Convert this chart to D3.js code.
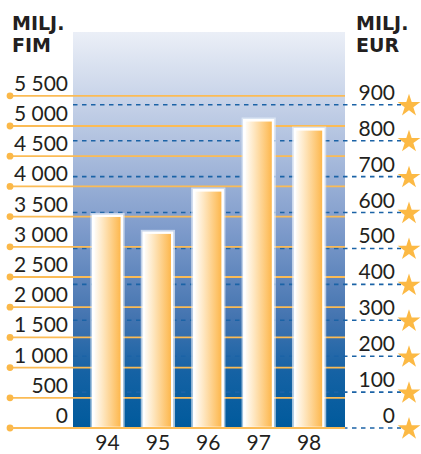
<!DOCTYPE html>
<html><head><meta charset="utf-8">
<script src="https://cdn.jsdelivr.net/npm/d3@7"></script>
<style>body{margin:0;background:#fff;}svg{display:block;}</style>
</head><body>
<script>
const years = ["94","95","96","97","98"];
const valuesFIM = [3540, 3260, 3960, 5120, 4970];
const fimTicks = [0,500,1000,1500,2000,2500,3000,3500,4000,4500,5000,5500];
const fimTickLabels = ["0","500","1 000","1 500","2 000","2 500","3 000","3 500","4 000","4 500","5 000","5 500"];
const eurTicks = [0,100,200,300,400,500,600,700,800,900];
const FIM_PER_EUR = 5.94573;

const W = 421, H = 454;
const svg = d3.select("body").append("svg").attr("width", W).attr("height", H);
const defs = svg.append("defs");

const bg = defs.append("linearGradient").attr("id","bg").attr("x1",0).attr("y1",0).attr("x2",0).attr("y2",1);
[["0%","#ebeff7"],["28%","#b0c1df"],["50%","#7e9bcb"],["72%","#4474b0"],["86%","#1562a4"],["100%","#005a9c"]]
  .forEach(([o,c]) => bg.append("stop").attr("offset",o).attr("stop-color",c));

const bar = defs.append("linearGradient").attr("id","bar").attr("x1",0).attr("y1",0).attr("x2",1).attr("y2",0);
[["0%","#ffffff"],["35%","#fee6bf"],["100%","#fdb445"]]
  .forEach(([o,c]) => bar.append("stop").attr("offset",o).attr("stop-color",c));

const plotL = 73, plotR = 345, plotT = 32, plotB = 428;
const y = d3.scaleLinear().domain([0, 5500]).range([plotB, 95.8]);
const yE = d3.scaleLinear().domain([0, 5500 / FIM_PER_EUR]).range([plotB, 95.8]);
const x = d3.scaleBand().domain(years).range([82.3, 334.3]).paddingInner(0.37).paddingOuter(0.185);

svg.append("rect").attr("x", plotL).attr("y", plotT).attr("width", plotR - plotL).attr("height", plotB - plotT)
  .attr("fill", "url(#bg)");

// EUR dashed lines
svg.append("g").selectAll("line").data(eurTicks).join("line")
  .attr("x1", plotL).attr("x2", 401)
  .attr("y1", d => yE(d)).attr("y2", d => yE(d))
  .attr("stroke", "#1b63a6").attr("stroke-width", 1.6).attr("stroke-dasharray", "4.5,4.5");

// FIM orange lines
svg.append("g").selectAll("line").data(fimTicks).join("line")
  .attr("x1", 10).attr("x2", plotR)
  .attr("y1", d => y(d)).attr("y2", d => y(d))
  .attr("stroke", "#fbbb55").attr("stroke-width", 1.8);
svg.append("g").selectAll("circle").data(fimTicks).join("circle")
  .attr("cx", 10).attr("cy", d => y(d)).attr("r", 3.4).attr("fill", "#fbb848");

// bars
const bars = svg.append("g");
bars.selectAll("rect.glow").data(valuesFIM).join("rect").attr("class","glow")
  .attr("x", (d,i) => x(years[i]) - 0.5).attr("width", x.bandwidth() + 1)
  .attr("y", d => y(d) - 0.5).attr("height", d => plotB - y(d) + 0.5)
  .attr("fill", "none").attr("stroke", "#e6eefa").attr("stroke-opacity", 0.7).attr("stroke-width", 1.5);
bars.selectAll("rect.bar").data(valuesFIM).join("rect").attr("class","bar")
  .attr("x", (d,i) => x(years[i]) + 1.5).attr("width", x.bandwidth() - 3)
  .attr("y", d => y(d) + 1.5).attr("height", d => plotB - y(d) - 1.5)
  .attr("fill", "url(#bar)").attr("stroke", "#ffffff").attr("stroke-width", 2.6);

// bottom orange line on top
svg.append("line").attr("x1", 10).attr("x2", plotR).attr("y1", y(0)).attr("y2", y(0))
  .attr("stroke", "#fbbb55").attr("stroke-width", 1.8);

const font = "Lato, 'DejaVu Sans', sans-serif";
const fs = 21;
// FIM labels
svg.append("g").selectAll("text").data(fimTicks).join("text")
  .attr("x", 68).attr("y", d => y(d) - 5)
  .attr("text-anchor", "end").attr("font-family", font).attr("font-size", fs)
  .attr("fill", "#231f20").text((d,i) => fimTickLabels[i]);

// EUR labels
svg.append("g").selectAll("text").data(eurTicks).join("text")
  .attr("x", 395).attr("y", d => yE(d) - 5)
  .attr("text-anchor", "end").attr("font-family", font).attr("font-size", fs)
  .attr("fill", "#231f20").text(d => d);

// stars
const star = d3.symbol().type(d3.symbolStar).size(160);
svg.append("g").selectAll("path").data(eurTicks).join("path")
  .attr("d", star).attr("transform", d => `translate(409,${yE(d) + 1})`)
  .attr("fill", "#fcb944");

// x labels
svg.append("g").selectAll("text").data(years).join("text")
  .attr("x", d => x(d) + x.bandwidth()/2).attr("y", 450)
  .attr("text-anchor", "middle").attr("font-family", font).attr("font-size", fs)
  .attr("fill", "#231f20").text(d => d);

// titles
const tf = "'DejaVu Sans', sans-serif";
const t1 = svg.append("text").attr("font-family", tf).attr("font-weight", "bold").attr("font-size", 19).attr("fill", "#231f20");
t1.append("tspan").attr("x", 12).attr("y", 30).text("MILJ.");
t1.append("tspan").attr("x", 12).attr("y", 52).text("FIM");
const t2 = svg.append("text").attr("font-family", tf).attr("font-weight", "bold").attr("font-size", 19).attr("fill", "#231f20");
t2.append("tspan").attr("x", 356).attr("y", 30).text("MILJ.");
t2.append("tspan").attr("x", 356).attr("y", 52).text("EUR");
</script>
</body></html>
